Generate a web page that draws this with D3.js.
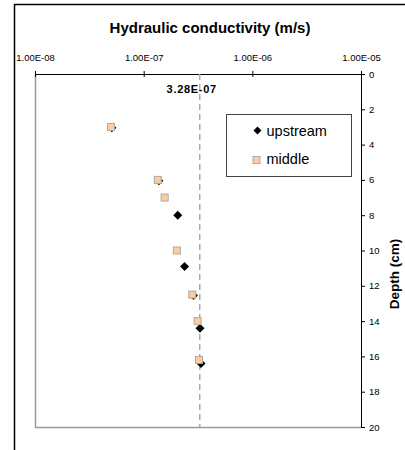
<!DOCTYPE html>
<html>
<head>
<meta charset="utf-8">
<script src="https://cdn.jsdelivr.net/npm/d3@7"></script>
<style>
  body { margin: 0; background: #fff; }
  svg { font-family: "Liberation Sans", Arial, sans-serif; }
</style>
</head>
<body>
<svg id="chart" width="405" height="450"></svg>
<script>
// Depth (cm) and hydraulic conductivity (m/s)
const upstreamDepth = [3.05, 6.05, 8.0, 10.9, 12.55, 14.4, 16.4];
const upstreamK = [5.1e-8, 1.38e-7, 2.06e-7, 2.38e-7, 2.87e-7, 3.3e-7, 3.37e-7];
const middleDepth = [3.0, 6.0, 7.0, 10.0, 12.5, 14.0, 16.2];
const middleK = [5.0e-8, 1.35e-7, 1.56e-7, 2.02e-7, 2.8e-7, 3.14e-7, 3.23e-7];
const meanK = 3.28e-7;
const xTicks = [1e-8, 1e-7, 1e-6, 1e-5];
const yTicks = [0, 2, 4, 6, 8, 10, 12, 14, 16, 18, 20];

const svg = d3.select("#chart");

// outer chart frame
svg.append("rect")
    .attr("x", 14.5).attr("y", 4.5)
    .attr("width", 400).attr("height", 460)
    .attr("fill", "none").attr("stroke", "#000").attr("stroke-width", 1.5);

const margin = { top: 74, right: 44, bottom: 23, left: 35 };
const width = 405 - margin.left - margin.right;
const height = 450 - margin.top - margin.bottom;

const g = svg.append("g")
    .attr("transform", `translate(${margin.left}, ${margin.top})`);

const x = d3.scaleLog().domain([1e-8, 1e-5]).range([0, width]);
const y = d3.scaleLinear().domain([0, 20]).range([0, height]);

// plot area border (left and bottom grey)
g.append("line").attr("x1", 0.5).attr("x2", 0.5).attr("y1", 0).attr("y2", height)
    .attr("stroke", "#999").attr("stroke-width", 1.5);
g.append("line").attr("x1", 0).attr("x2", width).attr("y1", height + 0.5).attr("y2", height + 0.5)
    .attr("stroke", "#999").attr("stroke-width", 1.5);

// top axis
const xAxis = d3.axisTop(x)
    .tickValues(xTicks)
    .tickFormat(d => d3.format(".2e")(d).replace("e-", "E-0").toUpperCase())
    .tickSizeInner(3).tickSizeOuter(0).tickPadding(10);
const xAxisGroup = g.append("g").call(xAxis);
xAxisGroup.selectAll(".tick line").attr("y2", 3).attr("y1", -3);
xAxisGroup.selectAll("text").style("font-size", "9.5px").attr("fill", "#000");
xAxisGroup.select(".domain").attr("stroke", "#000");

// right axis
const yAxis = d3.axisRight(y)
    .tickValues(yTicks)
    .tickSizeInner(4).tickSizeOuter(0).tickPadding(4);
const yAxisGroup = g.append("g")
    .attr("transform", `translate(${width}, 0)`)
    .call(yAxis);
yAxisGroup.selectAll("text").style("font-size", "9.5px").attr("fill", "#000");

// mean line
g.append("line")
    .attr("x1", x(meanK)).attr("x2", x(meanK))
    .attr("y1", 0).attr("y2", height)
    .attr("stroke", "#aaa").attr("stroke-width", 1.5)
    .attr("stroke-dasharray", "6,4");

g.append("text")
    .attr("x", x(meanK) - 8).attr("y", 19)
    .attr("text-anchor", "middle")
    .style("font-size", "11px").style("font-weight", "bold")
    .style("letter-spacing", "0.7px")
    .text("3.28E-07");

// series
const diamond = "M0,-4.5L4.5,0L0,4.5L-4.5,0Z";
const upstream = upstreamDepth.map((d, i) => ({ depth: d, k: upstreamK[i] }));
const middle = middleDepth.map((d, i) => ({ depth: d, k: middleK[i] }));

g.selectAll(".up").data(upstream).join("path")
    .attr("class", "up")
    .attr("d", diamond)
    .attr("transform", d => `translate(${x(d.k)}, ${y(d.depth)})`)
    .attr("fill", "#000");

g.selectAll(".mid").data(middle).join("rect")
    .attr("class", "mid")
    .attr("x", d => x(d.k) - 3.5).attr("y", d => y(d.depth) - 3.5)
    .attr("width", 7).attr("height", 7)
    .attr("fill", "#FFCC99").attr("stroke", "#aaa").attr("stroke-width", 1);

// legend
const legend = svg.append("g").attr("transform", "translate(226.5, 114.5)");
legend.append("rect").attr("width", 125).attr("height", 62)
    .attr("fill", "#fff").attr("stroke", "#444").attr("stroke-width", 1);
legend.append("path").attr("d", "M0,-4L4,0L0,4L-4,0Z")
    .attr("transform", "translate(31, 16)").attr("fill", "#000");
legend.append("text").attr("x", 40).attr("y", 21)
    .style("font-size", "14.5px").text("upstream");
legend.append("rect").attr("x", 26.5).attr("y", 42).attr("width", 7).attr("height", 7)
    .attr("fill", "#FFCC99").attr("stroke", "#aaa");
legend.append("text").attr("x", 40).attr("y", 49)
    .style("font-size", "14.5px").text("middle");

// titles
svg.append("text")
    .attr("x", 210).attr("y", 33)
    .attr("text-anchor", "middle")
    .style("font-size", "15px").style("font-weight", "bold")
    .text("Hydraulic conductivity (m/s)");

svg.append("text")
    .attr("transform", "translate(399, 274) rotate(-90)")
    .attr("text-anchor", "middle")
    .style("font-size", "13.5px").style("font-weight", "bold")
    .text("Depth (cm)");
</script>
</body>
</html>
